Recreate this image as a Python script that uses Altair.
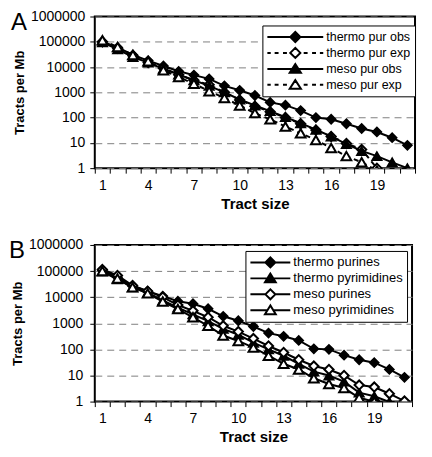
import altair as alt
import pandas as pd

FONT = "Liberation Sans"

# ---------------- data ----------------
sizes = list(range(1, 22))
x_tick_labels = [1, 4, 7, 10, 13, 16, 19]
y_ticks = [1, 10, 100, 1000, 10000, 100000, 1000000]

# Panel A
a_names = ["thermo pur obs", "thermo pur exp", "meso pur obs", "meso pur exp"]
a_thermo_obs = [100000, 60000, 30000, 18000, 11000, 6800, 4800, 3400, 1800, 1200, 750,
                400, 310, 190, 100, 86, 57, 37, 27, 16, 8]
a_thermo_exp = [100000, 55000, 28000, 15000, 9000, 5000, 3000, 2000, 1000, 500, 280,
                170, 100, 57, 32, 18, 9.5, 5.5, 1.0, 0.4, 0.15]
a_meso_obs = [95000, 50000, 25000, 15000, 8500, 5000, 3000, 1800, 1000, 520, 300,
              180, 105, 60, 33, 18, 9, 4.8, 3, 1.7, 1.0]
a_meso_exp = [115000, 62000, 30000, 17000, 7500, 4000, 2200, 1100, 600, 300, 150,
              85, 44, 24, 13, 6.3, 3.0, 1.7, 0.8, 0.4, 0.2]

# Panel B
b_names = ["thermo purines", "thermo pyrimidines", "meso purines", "meso pyrimidines"]
b_thermo_pur = [105000, 58000, 27000, 17000, 11000, 7000, 5600, 3600, 1850, 1250, 750,
                420, 316, 220, 105, 100, 60, 40, 31, 17, 8.5]
b_thermo_pyr = [95000, 48000, 24000, 15000, 7500, 4000, 2200, 1200, 610, 365, 180,
                100, 57, 28, 14, 10, 5.8, 2.2, 1.6, 0.97, 0.6]
b_meso_pur = [115000, 68000, 28000, 17000, 10000, 5000, 3000, 1700, 800, 480, 260,
              135, 76, 40, 23, 17, 10, 4.3, 3.6, 2.0, 1.05]
b_meso_pyr = [100000, 52000, 24000, 14000, 6800, 3500, 1700, 800, 340, 210, 117,
              57, 28, 17, 7.8, 4.7, 3.3, 1.4, 1.0, 0.6, 0.35]

# style per series: (dashed, shape, filled)
a_styles = [(False, "diamond", True), (True, "diamond", False),
            (False, "triangle-up", True), (True, "triangle-up", False)]
b_styles = [(False, "diamond", True), (False, "triangle-up", True),
            (False, "diamond", False), (False, "triangle-up", False)]


def legend_paths(half_d, tri_w, tri_top, tri_bot, styles):
    dash_segs = [(0.3, 0.44), (0.6, 0.74), (0.88, 1.0)]
    out = []
    for dashed, shape, filled in styles:
        gap = half_d if shape == "diamond" else tri_w * 0.55
        if dashed:
            line = "".join(f"M{-b},0L{-a},0M{a},0L{b},0" for a, b in dash_segs)
        else:
            line = f"M-1,0L{-gap},0M{gap},0L1,0"
        if shape == "diamond":
            sym = f"M{-half_d},0L0,{-half_d}L{half_d},0L0,{half_d}Z"
        else:
            sym = f"M0,{-tri_top}L{-tri_w},{tri_bot}L{tri_w},{tri_bot}Z"
        out.append(line + sym)
    return out


def panel(key, names, values, styles, width, height, legend_x, legend_y, sym_size,
          paths, letter, letter_x, letter_y, label_pad_y, legend_font):
    field = "series_" + key
    rows = []
    for name, vals in zip(names, values):
        for s, v in zip(sizes, vals):
            rows.append({"size": s, "value": v, field: name})
    df = pd.DataFrame(rows)

    bounds = [s - 0.5 for s in sizes] + [sizes[-1] + 0.5]
    label_list = ",".join(str(v) for v in x_tick_labels)
    x_axis = alt.Axis(
        values=bounds,
        labelExpr=f"indexof([{label_list}], datum.value + 0.5) >= 0 ? format(datum.value + 0.5, 'd') : ''",
        labelOffset=width / len(sizes) / 2,
        labelOverlap=False, labelFlush=False, labelBound=False,
        grid=False, domain=False, ticks=True, tickSize=5, tickColor="black",
        labelPadding=5, title="Tract size", titlePadding=4,
        titleFontSize=15, titleFontWeight="bold",
    )
    y_axis = alt.Axis(
        values=y_ticks, format="d", grid=True, gridDash=[7, 5], gridColor="#808080",
        gridWidth=1, domain=False, ticks=True, tickSize=5, tickColor="black",
        labelPadding=label_pad_y, labelOverlap=False, labelFlush=False,
        title="Tracts per Mb", titlePadding=4, titleFontSize=13,
        titleFontWeight="bold",
    )
    x_enc = alt.X("size:Q", scale=alt.Scale(domain=[0.5, sizes[-1] + 0.5], nice=False, zero=False), axis=x_axis)
    y_enc = alt.Y("value:Q", scale=alt.Scale(type="log", domain=[1, 1000000], nice=False), axis=y_axis)

    base = alt.Chart(df).encode(x=x_enc, y=y_enc)
    layers = []
    for name, (dashed, shape, filled) in zip(names, styles):
        sub = base.transform_filter(alt.datum[field] == name)
        if dashed:
            line = sub.mark_line(color="black", strokeWidth=2, strokeDash=[5, 4], clip=True)
        else:
            line = sub.mark_line(color="black", strokeWidth=2, clip=True)
        pts = sub.mark_point(
            shape=shape, filled=True, fill="black" if filled else "white",
            stroke="black", strokeWidth=1.5 if filled else 2,
            size=85 if shape == "diamond" else 95, opacity=1, clip=True,
        )
        layers += [line, pts]

    leg = alt.Legend(
        orient="none", legendX=legend_x, legendY=legend_y, title=None,
        strokeColor="black", fillColor="white", padding=4,
        labelFont=FONT, labelFontSize=legend_font, labelColor="black", labelOffset=2,
        symbolSize=sym_size, symbolStrokeWidth=2, symbolStrokeColor="black",
        rowPadding=1, labelLimit=200, clipHeight=15,
    )
    fills = ["black" if st[2] else "white" for st in styles]
    legend_layer = alt.Chart(df).transform_filter("false").mark_point(
        filled=False, strokeWidth=2, opacity=1
    ).encode(
        shape=alt.Shape(f"{field}:N", scale=alt.Scale(domain=names, range=paths), legend=leg),
        fill=alt.Fill(f"{field}:N", scale=alt.Scale(domain=names, range=fills), legend=leg),
        stroke=alt.Stroke(f"{field}:N", scale=alt.Scale(domain=names, range=["black"] * len(names)), legend=leg),
    )

    letter_layer = alt.Chart(pd.DataFrame({"t": [letter]})).mark_text(
        align="left", baseline="alphabetic", fontSize=24, font=FONT, color="black"
    ).encode(x=alt.value(letter_x), y=alt.value(letter_y), text="t:N")

    return alt.layer(*layers, legend_layer, letter_layer).properties(width=width, height=height)


a_paths = legend_paths(0.18, 0.2, 0.17, 0.14, a_styles)
b_paths = legend_paths(0.25, 0.27, 0.24, 0.2, b_styles)

chart_a = panel("a", a_names, [a_thermo_obs, a_thermo_exp, a_meso_obs, a_meso_exp], a_styles,
                321, 152, 168, 9, 3136, a_paths, "A", -84, 14, 5, 12.5)
chart_b = panel("b", b_names, [b_thermo_pur, b_thermo_pyr, b_meso_pur, b_meso_pyr], b_styles,
                318, 157, 151, 6, 1600, b_paths, "B", -86, 13, 7, 13)

chart = alt.vconcat(chart_a, chart_b, spacing=25).resolve_scale(
    shape="independent", fill="independent", stroke="independent",
    x="independent", y="independent"
).resolve_legend(
    shape="independent", fill="independent", stroke="independent"
).properties(
    padding={"left": 0, "top": 0, "right": 0, "bottom": 0}
).configure_view(
    stroke="black", strokeWidth=2
).configure_axis(
    labelFont=FONT, labelFontSize=14, labelColor="black",
    titleFont=FONT, titleColor="black",
)

chart.save("out.html", embed_options={"renderer": "svg", "actions": False})
